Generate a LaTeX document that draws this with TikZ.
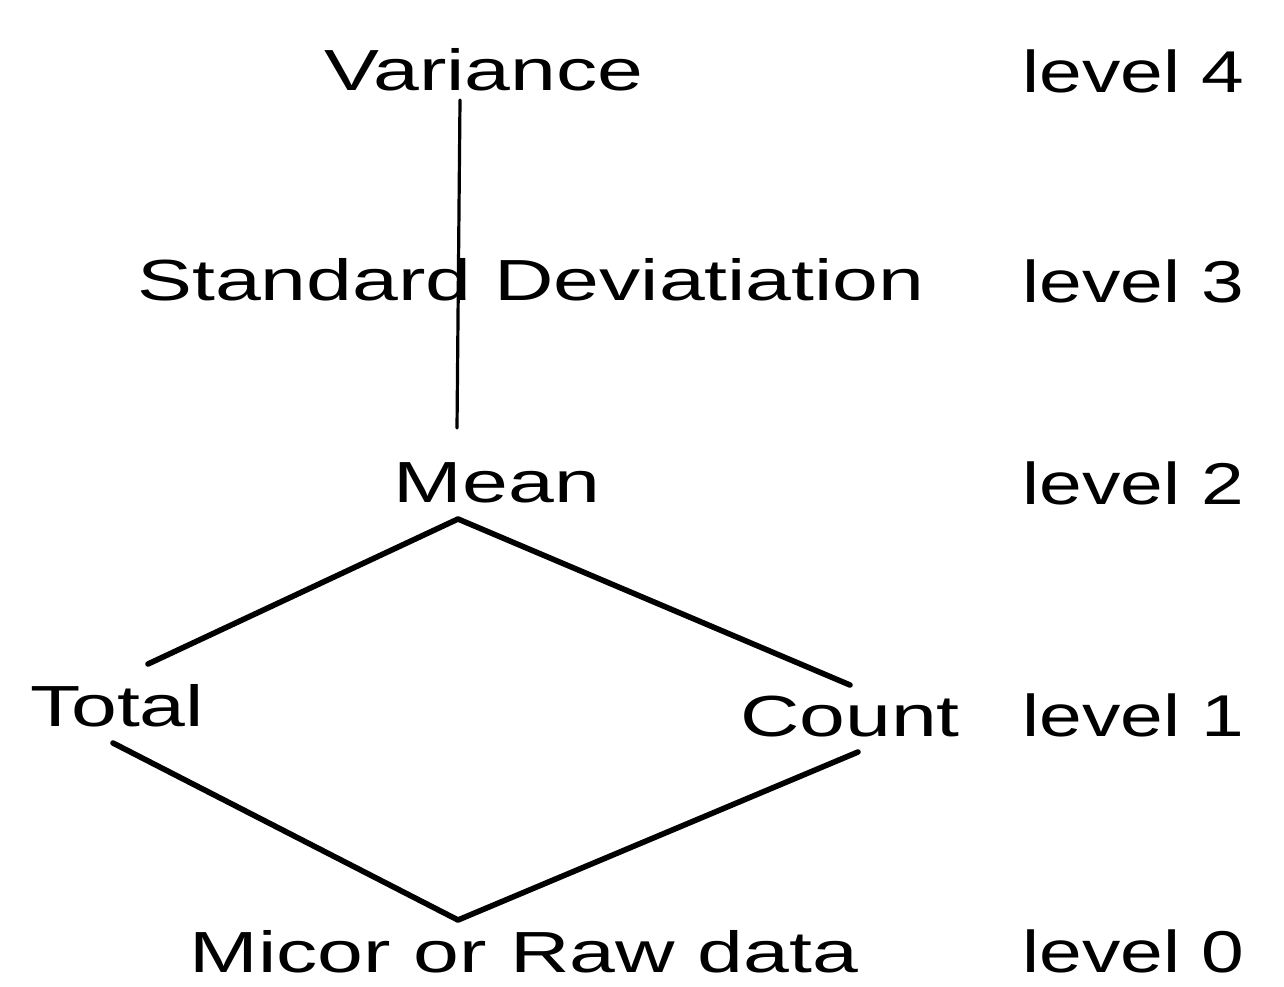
\documentclass[tikz,border=0pt]{standalone}
\usepackage{fontspec}
\setmainfont{Liberation Sans}[FakeStretch=1.42]
\newfontfamily\lvlfont{Liberation Sans}[FakeStretch=1.3]
\begin{document}
\begin{tikzpicture}[x=0.5pt,y=-0.5pt,
  lbl/.style={inner sep=0pt,font=\fontsize{29}{32}\selectfont},
  lvl/.style={inner sep=0pt,anchor=base west,font=\lvlfont\fontsize{29.5}{32}\selectfont},
  edge/.style={line width=2.8pt,line cap=round,line join=round}]
\useasboundingbox (0,0) rectangle (1284,986);
% vertical connector behind text
\coordinate (vtop) at (460,100);
\coordinate (vbot) at (457,428);
\draw[edge,line width=1.6pt] (vtop) -- (vbot);
\node[lbl,anchor=base] (var) at (484,90) {Variance};
\node[lbl,anchor=base] (sd) at (531,300) {Standard Deviatiation};
\node[lbl,anchor=base] (mean) at (497,502) {Mean};
\node[lbl,anchor=base] (total) at (117,726) {Total};
\node[lbl,anchor=base] (count) at (850,736) {Count};
\node[lbl,anchor=base] (raw) at (524,972) {Micor or Raw data};
\node[lvl] (l4) at (1022,92) {level 4};
\node[lvl] (l3) at (1022,302) {level 3};
\node[lvl] (l2) at (1022,504) {level 2};
\node[lvl] (l1) at (1022,736) {level 1};
\node[lvl] (l0) at (1022,972) {level 0};
\coordinate (mtop) at (458,519);
\coordinate (tl) at (148,664);
\coordinate (cr) at (850,685);
\coordinate (tb) at (113,743);
\coordinate (cb) at (858,752);
\coordinate (bot) at (458,920);
\draw[edge] (tl) -- (mtop) -- (cr);
\draw[edge] (tb) -- (bot) -- (cb);
\end{tikzpicture}
\end{document}
